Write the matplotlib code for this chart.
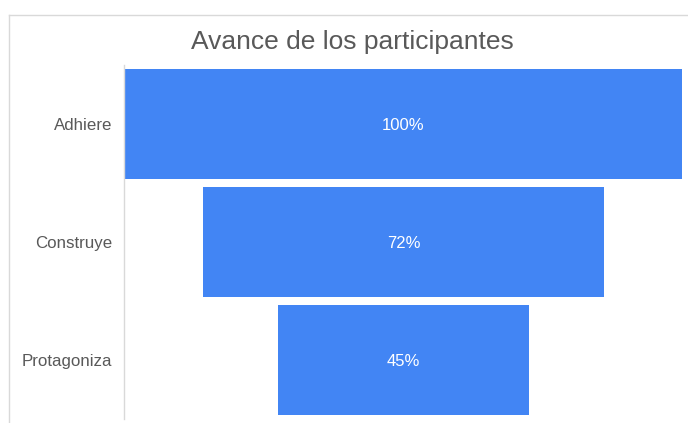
import matplotlib
matplotlib.use("Agg")
import matplotlib.pyplot as plt
from matplotlib.lines import Line2D

categories = ["Adhiere", "Construye", "Protagoniza"]
values = [100, 72, 45]
labels = ["100%", "72%", "45%"]
title = "Avance de los participantes"

plt.rcParams['font.family'] = ['Liberation Sans', 'DejaVu Sans']

fig = plt.figure(figsize=(6.88, 4.23), dpi=100)
fig.patch.set_facecolor("white")

ax = fig.add_axes([124/688, 1-419/423, (683-124)/688, (419-65)/423])
y = list(range(len(categories)))
lefts = [-v/2 for v in values]
ax.barh(y, values, left=lefts, height=0.94, color="#4285F4")
for yi, lab in zip(y, labels):
    ax.text(0, yi + 0.015, lab, ha="center", va="center", color="white", fontsize=12)

ax.set_xlim(-50.1, 50.1)
ax.set_ylim(2.5, -0.5)
ax.set_yticks(y)
ax.set_yticklabels(categories, fontsize=12.2, color="#595959")
ax.tick_params(axis="y", length=0, pad=8.5)
ax.set_xticks([])
for s in ["top", "right", "bottom"]:
    ax.spines[s].set_visible(False)
ax.spines["left"].set_color("#d9d9d9")
ax.spines["left"].set_linewidth(1)

fig.text(352/688, 1-42/423, title, ha="center", va="center", fontsize=19, color="#595959")

# outer frame (left and top edges visible)
fig.add_artist(Line2D([8.5/688, 8.5/688], [0, 1-15/423], transform=fig.transFigure, color="#d9d9d9", lw=1))
fig.add_artist(Line2D([8.5/688, 1], [1-15.5/423, 1-15.5/423], transform=fig.transFigure, color="#d9d9d9", lw=1))

fig.savefig("out.png", dpi=100, facecolor="white")
